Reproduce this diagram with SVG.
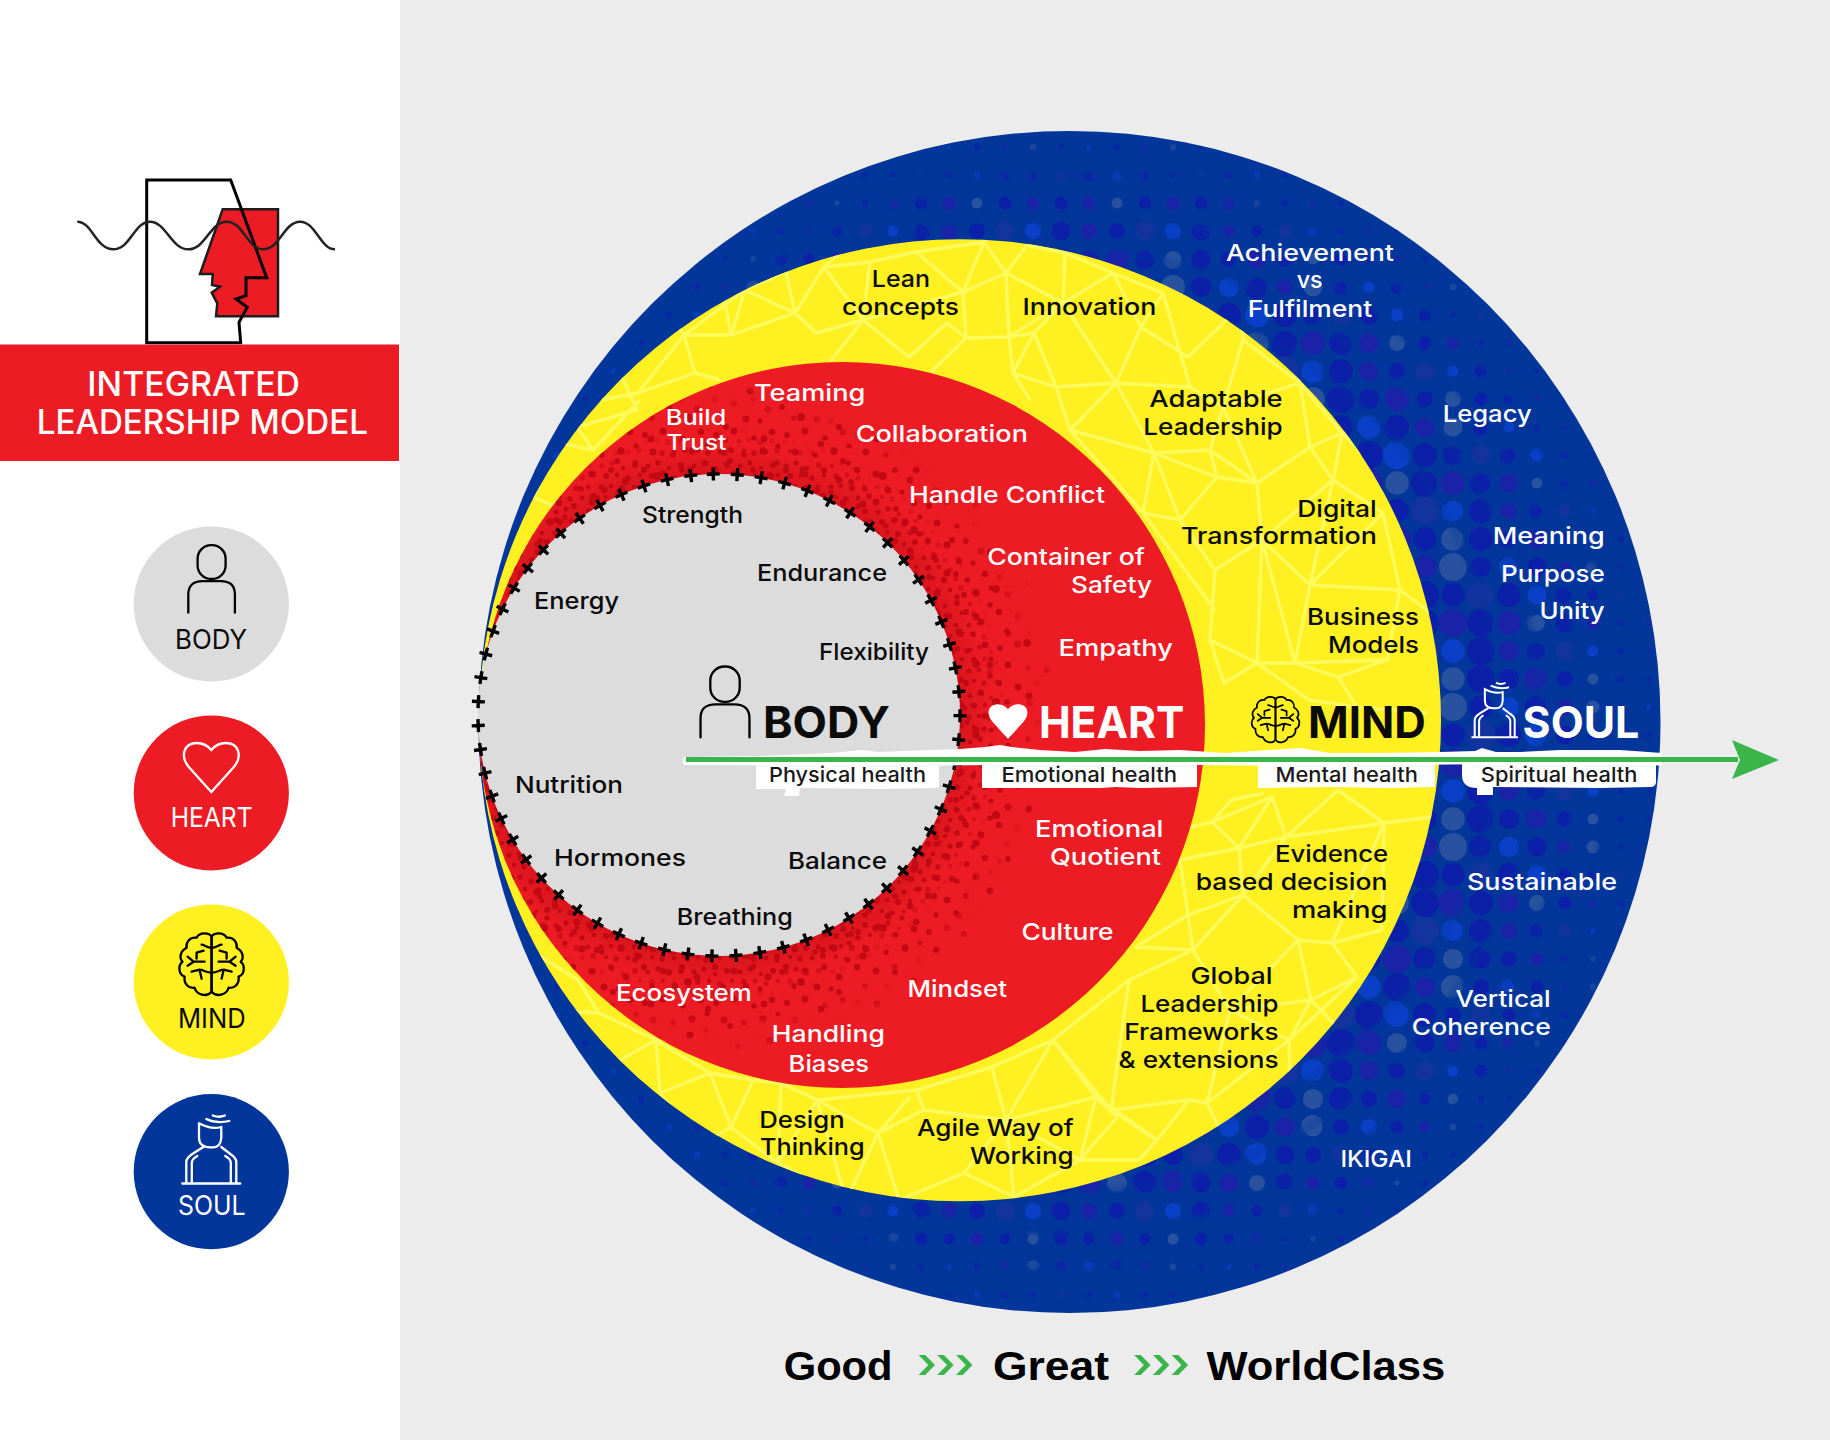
<svg xmlns="http://www.w3.org/2000/svg" xmlns:xlink="http://www.w3.org/1999/xlink" width="1830" height="1440" viewBox="0 0 1830 1440">
<style>
text{font-family:"Inter","Liberation Sans",sans-serif;font-size:23.5px;font-weight:500;fill:#0b0b0b}
.w{fill:#fff}
.lg{font-size:26.5px;font-weight:400}
.ban{font-size:33.5px;font-weight:500;fill:#fff}
.big{font-size:44.5px;font-weight:700}
.hl{font-size:20.5px;font-weight:500;fill:#1a1a1a}
.tight{font-size:21.5px}
.foot{font-family:"Liberation Sans",sans-serif;font-size:40px;font-weight:700;fill:#000}
.ln{fill:none;stroke-linecap:round;stroke-linejoin:round;stroke-width:2.3}
.a{fill:#1a22a8}.b{fill:#0c1fa8}.c{fill:#28529f}.d{fill:#0a40c8}.e{fill:#13339e}
.dot{r:var(--r)}
.k{r:calc(var(--r)*.84)}
.rd circle{fill:#c20914}
</style>
<defs>
<g id="tile">
<circle class="dot b" cx="14" cy="14"/><circle class="dot a k" cx="42" cy="14"/><circle class="dot c" cx="70" cy="14"/><circle class="dot b k" cx="98" cy="14"/><circle class="dot d k" cx="126" cy="14"/>
<circle class="dot d" cx="14" cy="42"/><circle class="dot b" cx="42" cy="42"/><circle class="dot b k" cx="70" cy="42"/><circle class="dot e" cx="98" cy="42"/><circle class="dot b" cx="126" cy="42"/>
<circle class="dot c k" cx="14" cy="70"/><circle class="dot b" cx="42" cy="70"/><circle class="dot a" cx="70" cy="70"/><circle class="dot b" cx="98" cy="70"/><circle class="dot a" cx="126" cy="70"/>
<circle class="dot b k" cx="14" cy="98"/><circle class="dot e" cx="42" cy="98"/><circle class="dot d k" cx="70" cy="98"/><circle class="dot b" cx="98" cy="98"/><circle class="dot a k" cx="126" cy="98"/>
<circle class="dot a" cx="14" cy="126"/><circle class="dot b k" cx="42" cy="126"/><circle class="dot c k" cx="70" cy="126"/><circle class="dot b" cx="98" cy="126"/><circle class="dot b k" cx="126" cy="126"/>
</g>
<pattern id="bp1" patternUnits="userSpaceOnUse" x="1103" y="133" width="140" height="140" style="--r:14px"><use href="#tile"/></pattern>
<pattern id="bp2" patternUnits="userSpaceOnUse" x="1103" y="133" width="140" height="140" style="--r:12px"><use href="#tile"/></pattern>
<pattern id="bp3" patternUnits="userSpaceOnUse" x="1103" y="133" width="140" height="140" style="--r:9.5px"><use href="#tile"/></pattern>
<pattern id="bp4" patternUnits="userSpaceOnUse" x="1103" y="133" width="140" height="140" style="--r:6.5px"><use href="#tile"/></pattern>
<pattern id="bp5" patternUnits="userSpaceOnUse" x="1103" y="133" width="140" height="140" style="--r:3.2px"><use href="#tile"/></pattern>
<radialGradient id="bg1" gradientUnits="userSpaceOnUse" cx="1069.5" cy="722" r="600"><stop offset=".7067" stop-color="#fff"/><stop offset=".7267" stop-color="#000"/></radialGradient>
<radialGradient id="bg2" gradientUnits="userSpaceOnUse" cx="1069.5" cy="722" r="600"><stop offset=".7067" stop-color="#000"/><stop offset=".7267" stop-color="#fff"/><stop offset=".7733" stop-color="#fff"/><stop offset=".7933" stop-color="#000"/></radialGradient>
<radialGradient id="bg3" gradientUnits="userSpaceOnUse" cx="1069.5" cy="722" r="600"><stop offset=".7733" stop-color="#000"/><stop offset=".7933" stop-color="#fff"/><stop offset=".84" stop-color="#fff"/><stop offset=".86" stop-color="#000"/></radialGradient>
<radialGradient id="bg4" gradientUnits="userSpaceOnUse" cx="1069.5" cy="722" r="600"><stop offset=".84" stop-color="#000"/><stop offset=".86" stop-color="#fff"/><stop offset=".8983" stop-color="#fff"/><stop offset=".9183" stop-color="#000"/></radialGradient>
<radialGradient id="bg5" gradientUnits="userSpaceOnUse" cx="1069.5" cy="722" r="600"><stop offset=".8983" stop-color="#000"/><stop offset=".9183" stop-color="#aaa"/><stop offset=".975" stop-color="#999"/><stop offset=".995" stop-color="#000"/></radialGradient>
<mask id="bm1" maskUnits="userSpaceOnUse" x="470" y="120" width="1200" height="1200"><rect x="470" y="120" width="1200" height="1200" fill="url(#bg1)"/></mask>
<mask id="bm2" maskUnits="userSpaceOnUse" x="470" y="120" width="1200" height="1200"><rect x="470" y="120" width="1200" height="1200" fill="url(#bg2)"/></mask>
<mask id="bm3" maskUnits="userSpaceOnUse" x="470" y="120" width="1200" height="1200"><rect x="470" y="120" width="1200" height="1200" fill="url(#bg3)"/></mask>
<mask id="bm4" maskUnits="userSpaceOnUse" x="470" y="120" width="1200" height="1200"><rect x="470" y="120" width="1200" height="1200" fill="url(#bg4)"/></mask>
<mask id="bm5" maskUnits="userSpaceOnUse" x="470" y="120" width="1200" height="1200"><rect x="470" y="120" width="1200" height="1200" fill="url(#bg5)"/></mask>
<clipPath id="cBlue"><circle cx="1069.5" cy="722" r="591"/></clipPath>
<clipPath id="cYellow"><circle cx="960" cy="720.3" r="481"/></clipPath>
<clipPath id="cRed"><circle cx="842" cy="725" r="363"/></clipPath>
<pattern id="rp1" class="rd" patternUnits="userSpaceOnUse" width="46" height="46"><circle cx="4" cy="6" r="2.5"/><circle cx="14" cy="3" r="2.7"/><circle cx="25" cy="8" r="2.3"/><circle cx="37" cy="5" r="3"/><circle cx="8" cy="16" r="3"/><circle cx="19" cy="15" r="2.4"/><circle cx="30" cy="18" r="2.7"/><circle cx="42" cy="15" r="2.3"/><circle cx="3" cy="27" r="2.6"/><circle cx="13" cy="26" r="2.3"/><circle cx="24" cy="28" r="3.1"/><circle cx="36" cy="27" r="2.4"/><circle cx="8" cy="37" r="2.3"/><circle cx="18" cy="39" r="2.8"/><circle cx="30" cy="38" r="2.4"/><circle cx="41" cy="36" r="3"/></pattern>
<pattern id="rp2" class="rd" patternUnits="userSpaceOnUse" width="71" height="71"><circle cx="6" cy="9" r="3"/><circle cx="24" cy="5" r="3.5"/><circle cx="44" cy="12" r="2.8"/><circle cx="62" cy="6" r="3.3"/><circle cx="14" cy="26" r="3.5"/><circle cx="34" cy="29" r="2.8"/><circle cx="53" cy="25" r="3.7"/><circle cx="67" cy="37" r="2.8"/><circle cx="5" cy="44" r="3.2"/><circle cx="24" cy="48" r="3.6"/><circle cx="43" cy="44" r="3"/><circle cx="58" cy="54" r="3.4"/><circle cx="13" cy="63" r="2.8"/><circle cx="36" cy="64" r="3.4"/><circle cx="50" cy="66" r="2.6"/><circle cx="68" cy="20" r="2.6"/></pattern>
<pattern id="rp3" class="rd" patternUnits="userSpaceOnUse" width="113" height="113"><circle cx="12" cy="18" r="3.4"/><circle cx="52" cy="9" r="2.9"/><circle cx="92" cy="24" r="4"/><circle cx="32" cy="46" r="3.1"/><circle cx="72" cy="52" r="3.6"/><circle cx="104" cy="68" r="2.9"/><circle cx="10" cy="78" r="3.9"/><circle cx="48" cy="88" r="3"/><circle cx="86" cy="100" r="3.4"/><circle cx="60" cy="30" r="3"/><circle cx="30" cy="105" r="3.2"/></pattern>
<radialGradient id="rg1" gradientUnits="userSpaceOnUse" cx="719" cy="715" r="340"><stop offset=".77" stop-color="#fff"/><stop offset=".853" stop-color="#000"/></radialGradient>
<radialGradient id="rg2" gradientUnits="userSpaceOnUse" cx="719" cy="715" r="340"><stop offset=".882" stop-color="#fff"/><stop offset=".956" stop-color="#000"/></radialGradient>
<radialGradient id="rg3" gradientUnits="userSpaceOnUse" cx="719" cy="715" r="340"><stop offset=".95" stop-color="#fff"/><stop offset=".995" stop-color="#000"/></radialGradient>
<radialGradient id="rg0" gradientUnits="userSpaceOnUse" cx="719" cy="715" r="340"><stop offset=".7" stop-color="#a8000a" stop-opacity=".3"/><stop offset=".8" stop-color="#a8000a" stop-opacity="0"/></radialGradient>
<mask id="rm1" maskUnits="userSpaceOnUse" x="470" y="350" width="740" height="750"><rect x="470" y="350" width="740" height="750" fill="url(#rg1)"/></mask>
<mask id="rm2" maskUnits="userSpaceOnUse" x="470" y="350" width="740" height="750"><rect x="470" y="350" width="740" height="750" fill="url(#rg2)"/></mask>
<mask id="rm3" maskUnits="userSpaceOnUse" x="470" y="350" width="740" height="750"><rect x="470" y="350" width="740" height="750" fill="url(#rg3)"/></mask>
<g id="person"><rect x="-14" y="-34.3" width="28" height="33.7" rx="13.5"/><path d="M-23.3 34V15Q-23.3 1.7-9 1.7H9Q23.3 1.7 23.3 15V34"/></g>
<path id="heartShape" d="M0 0L-22.5-25C-31.5-36-27.5-49-14.5-49C-7.5-49-2.5-45 0-42C2.5-45 7.5-49 14.5-49C27.5-49 31.5-36 22.5-25Z"/>
<g id="brainHalf"><path d="M0-28C2-32 12-33 15-27C22-28 26-22 25-17C31-14 33-7 29-3C34 1 33 10 27 12C28 19 23 24 17 23C15 30 5 33 0 27V-28"/><path d="M0-17C5-17 7-20 10-20M7-3H18L24-8M18-3L24 1M0 8C6 8 8 5 12 5L20 7M12 5L10 14M8-14L15-12V-6"/></g>
<g id="brain"><use href="#brainHalf"/><use href="#brainHalf" transform="scale(-1 1)"/></g>
<g id="soulIcon"><path d="M-12.3-26.7V-12Q-12-2.7-1-2.7H2Q9-2.7 10-12V-23Q0-20-12.3-26.7Z"/><path d="M-5-31Q5-26 18-29M1.5-34.5Q8-32 13.5-34.5"/><path d="M-25 33V12Q-25 8-19 4L-8-3M25 33V12Q25 8 19 4L10-3M-19.5 33V13Q-19.5 9-14 6M19.5 33V13Q19.5 9 14 6M-29 33.5H29"/></g>
<path id="cross" d="M719 467.5V480.5M712.5 474H725.5" fill="none" stroke="#000" stroke-width="3.4"/>
<path id="chev" d="M0 0H6.7L16.5 10 6.7 20H0L9.8 10Z" fill="#39b54a"/>
</defs>

<rect id="page" width="1830" height="1440" fill="#fff"/>
<rect id="panel" x="400" width="1430" height="1440" fill="#ececec"/>

<g id="logo">
<path d="M222.7 209.3H278V316.3H216L217.3 303.3 211.7 292.7 220 286.7 212 285 212.7 274H200Z" fill="#ed1c24" stroke="#1d1d1d" stroke-width="2.5"/>
<path d="M146.7 180H230.7L266.7 277.7H246V295.7L236 299 247.3 307.3 239 322.3 240.7 342.7H146.7Z" fill="none" stroke="#000" stroke-width="3"/>
<path d="M77.3 221.7C92 221.7 96 249.3 113.3 249.3S134 221.7 150 221.7S171 249.3 188.3 249.3S210 221.7 226.7 221.7S247 249.3 263.3 249.3S284 221.7 300 221.7S320 249.3 335 249.3" fill="none" stroke="#222" stroke-width="2.5"/>
<rect y="344.5" width="399" height="116.5" fill="#ed1c24"/>
<text class="ban" x="87.3" y="396" textLength="212.7" lengthAdjust="spacingAndGlyphs">INTEGRATED</text>
<text class="ban" x="36.7" y="434" textLength="331.3" lengthAdjust="spacingAndGlyphs">LEADERSHIP MODEL</text>
</g>

<g id="legend-body">
<circle cx="211.3" cy="604" r="77.6" fill="#dcdcdc"/>
<use href="#person" transform="translate(211.6 579.5)" fill="none" stroke="#000" stroke-width="2.3"/>
<text class="lg" x="175" y="649.3" textLength="72" lengthAdjust="spacingAndGlyphs">BODY</text>
</g>
<g id="legend-heart">
<circle cx="211.3" cy="793" r="77.6" fill="#ed1c24"/>
<use href="#heartShape" transform="translate(211.3 792)" fill="none" stroke="#fff" stroke-width="2.3"/>
<text class="lg w" x="170.7" y="826.7" textLength="82" lengthAdjust="spacingAndGlyphs">HEART</text>
</g>
<g id="legend-mind">
<circle cx="211.3" cy="982" r="77.6" fill="#fff022"/>
<use href="#brain" class="ln" transform="translate(211.6 964.7)" stroke="#000" stroke-width="2.6"/>
<text class="lg" x="178" y="1028.3" textLength="67.7" lengthAdjust="spacingAndGlyphs">MIND</text>
</g>
<g id="legend-soul">
<circle cx="211.3" cy="1171.7" r="77.6" fill="#03369b"/>
<use href="#soulIcon" class="ln" transform="translate(211.3 1150)" stroke="#fff"/>
<text class="lg w" x="178" y="1215" textLength="67.7" lengthAdjust="spacingAndGlyphs">SOUL</text>
</g>

<g id="soul">
<circle cx="1069.5" cy="722" r="591" fill="#03369b"/>
<g clip-path="url(#cBlue)">
<rect x="470" y="120" width="1200" height="1200" fill="url(#bp1)" mask="url(#bm1)"/>
<rect x="470" y="120" width="1200" height="1200" fill="url(#bp2)" mask="url(#bm2)"/>
<rect x="470" y="120" width="1200" height="1200" fill="url(#bp3)" mask="url(#bm3)"/>
<rect x="470" y="120" width="1200" height="1200" fill="url(#bp4)" mask="url(#bm4)"/>
<rect x="470" y="120" width="1200" height="1200" fill="url(#bp5)" mask="url(#bm5)"/>
</g>
</g>

<g id="mind">
<circle cx="960" cy="720.3" r="481" fill="#fff022"/>
<path clip-path="url(#cYellow)" fill="none" stroke="#fffb5c" stroke-width="3.4" stroke-linejoin="round" d="M684 335L731 335 795 313 745 290 731 335M745 290L786 272 795 313 824 267 870 262 916 252 963 292 863 320 824 267M795 313L816 333 863 320 909 357 947 323 966 338 963 292 1006 273 984 242 916 252M1006 273L1027 245M1006 273L1009 337 966 338 931 372M1009 337L1013 373 1030 400M1009 337L1034 333 1063 303 1065 253M1063 303L1113 273 1141 327 1116 383 1063 303M1034 333L1056 387 1116 383 1070 430 1056 387M1116 383L1154 453 1070 430M1116 383L1190 387 1163 293 1113 273M1188 357L1240 307 1243 340 1223 407 1190 387M1223 407L1210 450 1154 453 1143 513M1223 407L1300 383 1243 340M1300 383L1310 447 1342 433 1300 383M1210 450L1217 477 1257 483 1310 447 1333 480 1383 513M1217 477L1180 520 1143 513 1215 610M1257 483L1262 540 1333 480M1262 540L1215 570M1262 540L1310 585 1383 513 1400 590 1310 585 1295 663 1257 663 1262 540M1400 590L1387 660 1295 663M1400 590L1440 620M1257 663L1224 683 1210 640M1387 660L1338 677 1295 663M1338 677L1357 707 1427 713M1357 707L1309 700 1257 663M1264 793L1231 800 1212 822 1239 848 1272 797 1286 837 1338 790 1384 823 1432 817M1286 837L1239 848M1212 822L1180 830M1384 823L1286 837M1239 848L1243 895 1188 915 1193 950 1136 947 1188 915M1243 895L1298 940 1332 943 1384 823M1332 943L1382 930M1298 940L1311 1000 1357 977 1332 943M1311 1000L1289 1040 1207 1103 1189 1100 1157 1140 1139 1160M1193 950L1129 980 1111 1110 1053 1040 1096 1097 1157 1140M1053 1040L1129 980M1193 950L1230 1010 1311 1000M1230 1010L1289 1040M1230 1010L1207 1103M1111 1110L1189 1100M1053 1040L992 1067 917 1090 817 1100 781 1083M1053 1040L1006 1120 1014 1197M1096 1097L1117 1117M992 1067L1006 1120 924 1110 917 1090M924 1110L878 1133 899 1200M878 1133L910 1097M1006 1120L964 1173 899 1200M964 1173L1014 1197M878 1133L846 1200M817 1100L778 1163 731 1127 753 1080M731 1127L710 1073 656 1040M710 1073L660 1093 656 1040 599 1013 578 980M731 1127L700 1145M778 1163L846 1200M599 1013L555 1010M578 980L530 950M577 427L593 450 560 443 577 427 637 410 612 355M560 443L533 497 557 507M593 450L640 400M684 335L638 393 695 373 684 335M638 393L600 400M695 373L720 380M684 335L660 300M731 335L720 275M1034 333L1013 373 1056 387M1141 327L1188 357M1141 327L1163 293M1154 453L1180 520M1070 430L1143 513M1154 453L1217 477M1257 483L1223 407M1342 433L1333 480M1342 433L1400 490M1300 383L1270 330M1210 450L1257 483M1180 520L1215 570 1262 540M1215 570L1210 640 1257 663M1310 585L1333 480M1295 663L1262 540M1272 797L1212 822M1239 848L1180 860 1188 915M1243 895L1286 837M1384 823L1382 930M1243 895L1193 950M1298 940L1230 1010M1357 977L1289 1040M1311 1000L1340 1030M1289 1040L1290 1090M1207 1103L1220 1130M1111 1110L1157 1140M1006 1120L1096 1097M1096 1097L1080 1160 1014 1197M1006 1120L1080 1160 1117 1117M1080 1160L1139 1160M817 1100L846 1200M878 1133L817 1100M778 1163L781 1083M753 1080L781 1083M710 1073L753 1080M660 1093L700 1145M656 1040L620 1060M684 335L745 290M745 290L760 255M786 272L800 245M824 267L850 245M870 262L863 320M863 320L830 362M1006 273L1063 303M1027 245L1065 253M1065 253L1113 273M963 292L984 242M1009 337L1063 303"/>
</g>

<g id="heart">
<circle cx="842" cy="725" r="363" fill="#ed1c24"/>
<g clip-path="url(#cRed)">
<circle cx="719" cy="715" r="276" fill="url(#rg0)"/>
<rect x="470" y="350" width="740" height="750" fill="url(#rp3)" mask="url(#rm3)"/>
<rect x="470" y="350" width="740" height="750" fill="url(#rp2)" mask="url(#rm2)"/>
<rect x="470" y="350" width="740" height="750" fill="url(#rp1)" mask="url(#rm1)"/>
</g>
</g>

<g id="body">
<circle cx="719" cy="715" r="241" fill="#dcdcdc"/>
<g id="crosses">
<use href="#cross" transform="rotate(-1.36 719 715)"/><use href="#cross" transform="rotate(4.36 719 715)"/><use href="#cross" transform="rotate(10.08 719 715)"/><use href="#cross" transform="rotate(15.8 719 715)"/><use href="#cross" transform="rotate(21.52 719 715)"/><use href="#cross" transform="rotate(27.24 719 715)"/><use href="#cross" transform="rotate(32.96 719 715)"/><use href="#cross" transform="rotate(38.68 719 715)"/><use href="#cross" transform="rotate(44.4 719 715)"/><use href="#cross" transform="rotate(50.12 719 715)"/><use href="#cross" transform="rotate(55.84 719 715)"/><use href="#cross" transform="rotate(61.56 719 715)"/><use href="#cross" transform="rotate(67.28 719 715)"/><use href="#cross" transform="rotate(73 719 715)"/><use href="#cross" transform="rotate(78.72 719 715)"/><use href="#cross" transform="rotate(84.44 719 715)"/><use href="#cross" transform="rotate(90.16 719 715)"/><use href="#cross" transform="rotate(95.88 719 715)"/><use href="#cross" transform="rotate(101.6 719 715)"/><use href="#cross" transform="rotate(107.32 719 715)"/><use href="#cross" transform="rotate(113.04 719 715)"/><use href="#cross" transform="rotate(118.76 719 715)"/><use href="#cross" transform="rotate(124.48 719 715)"/><use href="#cross" transform="rotate(130.2 719 715)"/><use href="#cross" transform="rotate(135.92 719 715)"/><use href="#cross" transform="rotate(141.64 719 715)"/><use href="#cross" transform="rotate(147.36 719 715)"/><use href="#cross" transform="rotate(153.08 719 715)"/><use href="#cross" transform="rotate(158.8 719 715)"/><use href="#cross" transform="rotate(164.52 719 715)"/><use href="#cross" transform="rotate(170.24 719 715)"/><use href="#cross" transform="rotate(175.96 719 715)"/><use href="#cross" transform="rotate(181.68 719 715)"/><use href="#cross" transform="rotate(187.4 719 715)"/><use href="#cross" transform="rotate(193.12 719 715)"/><use href="#cross" transform="rotate(198.84 719 715)"/><use href="#cross" transform="rotate(204.56 719 715)"/><use href="#cross" transform="rotate(210.28 719 715)"/><use href="#cross" transform="rotate(216 719 715)"/><use href="#cross" transform="rotate(221.72 719 715)"/><use href="#cross" transform="rotate(227.44 719 715)"/><use href="#cross" transform="rotate(233.16 719 715)"/><use href="#cross" transform="rotate(238.88 719 715)"/><use href="#cross" transform="rotate(244.6 719 715)"/><use href="#cross" transform="rotate(250.32 719 715)"/><use href="#cross" transform="rotate(256.04 719 715)"/><use href="#cross" transform="rotate(261.76 719 715)"/><use href="#cross" transform="rotate(267.48 719 715)"/><use href="#cross" transform="rotate(273.2 719 715)"/><use href="#cross" transform="rotate(278.92 719 715)"/><use href="#cross" transform="rotate(284.64 719 715)"/><use href="#cross" transform="rotate(290.36 719 715)"/><use href="#cross" transform="rotate(296.08 719 715)"/><use href="#cross" transform="rotate(301.8 719 715)"/><use href="#cross" transform="rotate(307.52 719 715)"/><use href="#cross" transform="rotate(313.24 719 715)"/><use href="#cross" transform="rotate(318.96 719 715)"/><use href="#cross" transform="rotate(324.68 719 715)"/><use href="#cross" transform="rotate(330.4 719 715)"/><use href="#cross" transform="rotate(336.12 719 715)"/><use href="#cross" transform="rotate(341.84 719 715)"/><use href="#cross" transform="rotate(347.56 719 715)"/><use href="#cross" transform="rotate(353.28 719 715)"/>
</g>
</g>

<g id="health-strip" fill="#fff">
<path d="M688 757L760 756 830 753 862 750 878 752 930 750 960 749 985 747 1000 745 1012 747 1040 750 1075 752 1105 749 1140 751 1180 750 1225 753 1285 749 1300 748 1330 753 1380 753 1440 752 1475 751 1482 748 1496 752 1520 752 1560 750 1620 750 1662 753V765.5L1500 764 1300 766 1100 764 900 766 684 765Q681 760 684 757Z"/>
<path d="M756 763H939V788L880 789 800 788 799 796H784L786 789H756Z"/>
<path d="M982 763H1197V787L1140 788 1115 787 1100 788 982 788Z"/>
<path d="M1258 763H1435V787L1390 788 1330 787 1258 788Z"/>
<path d="M1462 763H1656V782Q1656 787 1650 787L1600 788 1493 787V795H1477V788Q1462 788 1462 775Z"/>
</g>

<g id="connectors">
<path d="M686 759.5H1738" fill="none" stroke="#39b54a" stroke-width="5"/>
<path d="M1732 740L1779 760 1732 779 1740 760Z" fill="#39b54a"/>
</g>

<g id="body-labels">
<use href="#person" transform="translate(725 702.5) scale(1.05)" fill="none" stroke="#000" stroke-width="2.2"/>
<text class="big" x="762.9" y="737.7" textLength="127" lengthAdjust="spacingAndGlyphs">BODY</text>
<text class="hl" x="769" y="781.7" textLength="157" lengthAdjust="spacingAndGlyphs">Physical health</text>
<text x="642" y="523" textLength="101" lengthAdjust="spacingAndGlyphs">Strength</text>
<text x="757" y="581" textLength="130" lengthAdjust="spacingAndGlyphs">Endurance</text>
<text x="534" y="609" textLength="85" lengthAdjust="spacingAndGlyphs">Energy</text>
<text x="819" y="660" textLength="110" lengthAdjust="spacingAndGlyphs">Flexibility</text>
<text x="515" y="793" textLength="108" lengthAdjust="spacingAndGlyphs">Nutrition</text>
<text x="554" y="866" textLength="132" lengthAdjust="spacingAndGlyphs">Hormones</text>
<text x="788" y="868.6" textLength="99" lengthAdjust="spacingAndGlyphs">Balance</text>
<text x="676.8" y="925" textLength="116" lengthAdjust="spacingAndGlyphs">Breathing</text>
</g>

<g id="heart-labels">
<use href="#heartShape" transform="translate(1008 739) scale(.71)" fill="#fff"/>
<text class="big w" x="1038.9" y="737.7" textLength="145.4" lengthAdjust="spacingAndGlyphs">HEART</text>
<text class="hl" x="1001.4" y="781.7" textLength="175.6" lengthAdjust="spacingAndGlyphs">Emotional health</text>
<text class="w" x="754" y="400.7" textLength="111.4" lengthAdjust="spacingAndGlyphs">Teaming</text>
<text class="w tight" x="665.7" y="424.5" textLength="60.7" lengthAdjust="spacingAndGlyphs">Build</text>
<text class="w tight" x="666.4" y="449.5" textLength="60" lengthAdjust="spacingAndGlyphs">Trust</text>
<text class="w" x="855.7" y="441.7" textLength="172.2" lengthAdjust="spacingAndGlyphs">Collaboration</text>
<text class="w" x="909" y="503" textLength="196" lengthAdjust="spacingAndGlyphs">Handle Conflict</text>
<text class="w" x="987.3" y="565" textLength="157.6" lengthAdjust="spacingAndGlyphs">Container of</text>
<text class="w" x="1071" y="593" textLength="81" lengthAdjust="spacingAndGlyphs">Safety</text>
<text class="w" x="1058.5" y="656" textLength="114.5" lengthAdjust="spacingAndGlyphs">Empathy</text>
<text class="w" x="1035" y="836.5" textLength="128.5" lengthAdjust="spacingAndGlyphs">Emotional</text>
<text class="w" x="1050" y="864.5" textLength="111" lengthAdjust="spacingAndGlyphs">Quotient</text>
<text class="w" x="1021.4" y="940" textLength="92.2" lengthAdjust="spacingAndGlyphs">Culture</text>
<text class="w" x="907.5" y="996.7" textLength="99.5" lengthAdjust="spacingAndGlyphs">Mindset</text>
<text class="w" x="616" y="1000.7" textLength="135.8" lengthAdjust="spacingAndGlyphs">Ecosystem</text>
<text class="w" x="771.8" y="1041.7" textLength="113.2" lengthAdjust="spacingAndGlyphs">Handling</text>
<text class="w" x="788.6" y="1071.7" textLength="80.4" lengthAdjust="spacingAndGlyphs">Biases</text>
</g>

<g id="mind-labels">
<use href="#brain" class="ln" transform="translate(1275.5 720) scale(.74)" stroke="#000" stroke-width="2.8"/>
<text class="big" x="1308" y="737.7" textLength="117.7" lengthAdjust="spacingAndGlyphs">MIND</text>
<text class="hl" x="1275.5" y="781.7" textLength="142.5" lengthAdjust="spacingAndGlyphs">Mental health</text>
<text x="871.8" y="287.3" textLength="58.2" lengthAdjust="spacingAndGlyphs">Lean</text>
<text x="842" y="315" textLength="117" lengthAdjust="spacingAndGlyphs">concepts</text>
<text x="1022.5" y="315" textLength="133.9" lengthAdjust="spacingAndGlyphs">Innovation</text>
<text x="1149.3" y="407.3" textLength="133.4" lengthAdjust="spacingAndGlyphs">Adaptable</text>
<text x="1143.3" y="435" textLength="139.4" lengthAdjust="spacingAndGlyphs">Leadership</text>
<text x="1297.3" y="516.7" textLength="79.4" lengthAdjust="spacingAndGlyphs">Digital</text>
<text x="1181" y="544" textLength="196" lengthAdjust="spacingAndGlyphs">Transformation</text>
<text x="1307" y="624.7" textLength="112" lengthAdjust="spacingAndGlyphs">Business</text>
<text x="1328" y="652.7" textLength="91" lengthAdjust="spacingAndGlyphs">Models</text>
<text x="1275" y="861.7" textLength="113.2" lengthAdjust="spacingAndGlyphs">Evidence</text>
<text x="1195.7" y="890" textLength="191.8" lengthAdjust="spacingAndGlyphs">based decision</text>
<text x="1292" y="917.7" textLength="95.5" lengthAdjust="spacingAndGlyphs">making</text>
<text x="1190.4" y="984" textLength="82.1" lengthAdjust="spacingAndGlyphs">Global</text>
<text x="1140.4" y="1012.3" textLength="138.2" lengthAdjust="spacingAndGlyphs">Leadership</text>
<text x="1124.3" y="1040" textLength="154.3" lengthAdjust="spacingAndGlyphs">Frameworks</text>
<text x="1118.6" y="1067.7" textLength="160" lengthAdjust="spacingAndGlyphs">&amp; extensions</text>
<text x="759.3" y="1127.7" textLength="85.3" lengthAdjust="spacingAndGlyphs">Design</text>
<text x="760" y="1155" textLength="104.6" lengthAdjust="spacingAndGlyphs">Thinking</text>
<text x="917" y="1136" textLength="156.6" lengthAdjust="spacingAndGlyphs">Agile Way of</text>
<text x="970" y="1164" textLength="103.6" lengthAdjust="spacingAndGlyphs">Working</text>
</g>

<g id="soul-labels">
<use href="#soulIcon" transform="translate(1494.7 710.5) scale(.8)" fill="none" stroke="#fff" stroke-width="2.5"/>
<text class="big w" x="1522.6" y="737.7" textLength="116.6" lengthAdjust="spacingAndGlyphs">SOUL</text>
<text class="hl" x="1480.8" y="781.7" textLength="156.5" lengthAdjust="spacingAndGlyphs">Spiritual health</text>
<text class="w" x="1226" y="260.7" textLength="168" lengthAdjust="spacingAndGlyphs">Achievement</text>
<text class="w" x="1296.7" y="288.3" textLength="26" lengthAdjust="spacingAndGlyphs">vs</text>
<text class="w" x="1247.7" y="316.7" textLength="124.6" lengthAdjust="spacingAndGlyphs">Fulfilment</text>
<text class="w" x="1442.7" y="421.7" textLength="89" lengthAdjust="spacingAndGlyphs">Legacy</text>
<text class="w" x="1492.7" y="544" textLength="112" lengthAdjust="spacingAndGlyphs">Meaning</text>
<text class="w" x="1501" y="581.5" textLength="103.7" lengthAdjust="spacingAndGlyphs">Purpose</text>
<text class="w" x="1539.4" y="619" textLength="65.3" lengthAdjust="spacingAndGlyphs">Unity</text>
<text class="w" x="1467" y="890" textLength="150" lengthAdjust="spacingAndGlyphs">Sustainable</text>
<text class="w" x="1455.4" y="1006.7" textLength="95.3" lengthAdjust="spacingAndGlyphs">Vertical</text>
<text class="w" x="1411.8" y="1035" textLength="138.9" lengthAdjust="spacingAndGlyphs">Coherence</text>
<text class="w" x="1340.4" y="1167.3" textLength="71.4" lengthAdjust="spacingAndGlyphs">IKIGAI</text>
</g>

<g id="footer">
<text class="foot" x="783.7" y="1380" textLength="108.9" lengthAdjust="spacingAndGlyphs">Good</text>
<use href="#chev" x="918.5" y="1355"/><use href="#chev" x="937.2" y="1355"/><use href="#chev" x="956" y="1355"/>
<text class="foot" x="993" y="1380" textLength="116" lengthAdjust="spacingAndGlyphs">Great</text>
<use href="#chev" x="1134.1" y="1355"/><use href="#chev" x="1152.9" y="1355"/><use href="#chev" x="1171.6" y="1355"/>
<text class="foot" x="1206.4" y="1380" textLength="238.9" lengthAdjust="spacingAndGlyphs">WorldClass</text>
</g>
</svg>
